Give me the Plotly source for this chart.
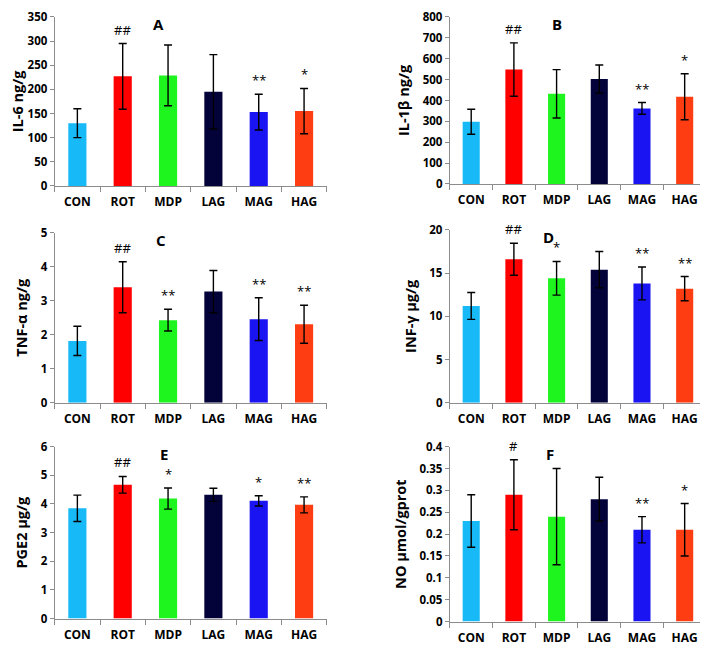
import plotly.graph_objects as go

categories = ["CON", "ROT", "MDP", "LAG", "MAG", "HAG"]
colors = ["#17B9F7", "#FF0000", "#1EF51E", "#03033A", "#1A14F2", "#FF3D12"]

il6 = [130, 227, 229, 195, 153, 155]
il6_err = [30, 68, 63, 77, 37, 47]
il6_marks = ["", "##", "", "", "**", "*"]

il1b = [298, 548, 432, 503, 362, 418]
il1b_err = [60, 128, 116, 67, 28, 110]
il1b_marks = ["", "##", "", "", "**", "*"]

tnfa = [1.82, 3.40, 2.43, 3.27, 2.46, 2.31]
tnfa_err = [0.43, 0.75, 0.32, 0.62, 0.63, 0.56]
tnfa_marks = ["", "##", "**", "", "**", "**"]

infg = [11.2, 16.6, 14.4, 15.4, 13.8, 13.2]
infg_err = [1.55, 1.85, 1.95, 2.1, 1.9, 1.4]
infg_marks = ["", "##", "*", "", "**", "**"]

pge2 = [3.85, 4.67, 4.19, 4.32, 4.11, 3.97]
pge2_err = [0.46, 0.29, 0.37, 0.23, 0.18, 0.28]
pge2_marks = ["", "##", "*", "", "*", "**"]

no = [0.23, 0.29, 0.24, 0.28, 0.21, 0.21]
no_err = [0.06, 0.08, 0.11, 0.05, 0.03, 0.06]
no_marks = ["", "#", "", "", "**", "*"]

# page has an 8px body margin; lay out in page pixels and convert
OFF = 8
W, H = 708 - OFF, 650 - OFF


def xdom(a, b):
    return [max(0.0, (a - OFF) / W), min(1.0, (b - OFF) / W)]


def ydom(bottom, top):
    return [max(0.0, 1 - (bottom - OFF) / H), min(1.0, 1 - (max(top, OFF + 1) - OFF) / H)]


panels = [
    dict(letter="A", title="IL-6 ng/g", vals=il6, err=il6_err, marks=il6_marks,
         rng=[0, 350], dtick=50, xd=xdom(50, 324), yd=ydom(182, 8), lx=1.8, ly=336),
    dict(letter="B", title="IL-1β ng/g", vals=il1b, err=il1b_err, marks=il1b_marks,
         rng=[0, 800], dtick=100, xd=xdom(448, 706), yd=ydom(180, 9), lx=2.0, ly=767),
    dict(letter="C", title="TNF-α ng/g", vals=tnfa, err=tnfa_err, marks=tnfa_marks,
         rng=[0, 5], dtick=1, xd=xdom(50, 324), yd=ydom(404, 230), lx=1.85, ly=4.8),
    dict(letter="D", title="INF-γ μg/g", vals=infg, err=infg_err, marks=infg_marks,
         rng=[0, 20], dtick=5, xd=xdom(448, 706), yd=ydom(404, 227), lx=1.8, ly=19.2),
    dict(letter="E", title="PGE2 μg/g", vals=pge2, err=pge2_err, marks=pge2_marks,
         rng=[0, 6], dtick=1, xd=xdom(50, 324), yd=ydom(625, 449), lx=1.9, ly=5.76),
    dict(letter="F", title="NO μmol/gprot", vals=no, err=no_err, marks=no_marks,
         rng=[0, 0.4], dtick=0.05, xd=xdom(448, 706), yd=ydom(628, 449), lx=1.85, ly=0.384),
]

fig = go.Figure()
font_fam = "Open Sans"
annotations = []
for i, p in enumerate(panels):
    n = "" if i == 0 else str(i + 1)
    xa, ya = "x" + n, "y" + n
    fig.add_trace(go.Bar(
        x=categories, y=p["vals"], marker=dict(color=colors, line=dict(width=0)),
        width=0.4, xaxis=xa, yaxis=ya, showlegend=False,
        error_y=dict(type="data", array=p["err"], visible=True, color="black",
                     thickness=1.4, width=4),
    ))
    fig.update_layout(**{
        "xaxis" + n: dict(domain=p["xd"], anchor=ya, showline=True, linecolor="#8c8c8c",
                          linewidth=1.2, ticks="outside", tickson="boundaries",
                          ticklen=5, tickcolor="#8c8c8c", showgrid=False,
                          ticklabelstandoff=5,
                          tickfont=dict(family=font_fam, size=12, color="black", weight="bold"),
                          fixedrange=True),
        "yaxis" + n: dict(domain=p["yd"], anchor=xa, range=p["rng"], dtick=p["dtick"],
                          showline=True, linecolor="#8c8c8c", linewidth=1.2,
                          ticks="outside", ticklen=4, tickcolor="#8c8c8c", showgrid=False,
                          zeroline=False,
                          tickfont=dict(family=font_fam, size=11.5, color="black", weight="bold"),
                          title=dict(text=p["title"], standoff=9,
                                     font=dict(family=font_fam, size=14.5, color="black", weight="bold"))),
    })
    annotations.append(dict(x=p["lx"], y=p["ly"], xref=xa, yref=ya, text=p["letter"],
                            showarrow=False, font=dict(family=font_fam, size=15, color="black", weight="bold")))
    for c, v, e, m in zip(categories, p["vals"], p["err"], p["marks"]):
        if m:
            annotations.append(dict(x=c, y=v + e, xref=xa, yref=ya, text=m, showarrow=False,
                                    yanchor="bottom", yshift=3,
                                    font=dict(family=font_fam, size=13, color="black")))

fig.update_layout(width=W, height=H, margin=dict(l=0, r=0, t=0, b=0),
                  plot_bgcolor="white", paper_bgcolor="white", annotations=annotations,
                  bargap=0.6)
fig.write_html("out.html")
